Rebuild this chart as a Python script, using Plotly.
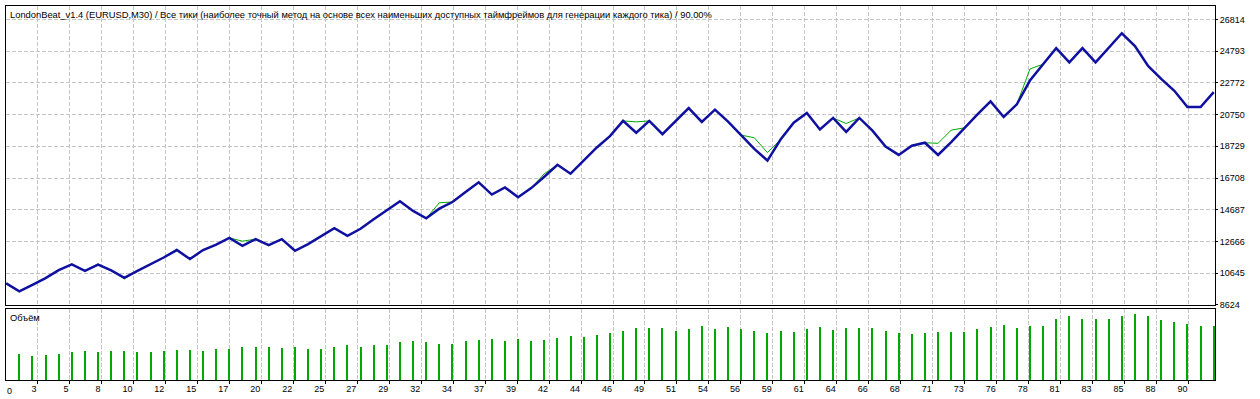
import plotly.graph_objects as go

# ---------------- data ----------------
trade_no = list(range(93))
balance = [10000, 9483, 9905, 10328, 10834, 11201, 10790, 11188, 10822, 10348,
           10790, 11201, 11643, 12116, 11548, 12116, 12464, 12893, 12388, 12811,
           12432, 12811, 12072, 12496, 13001, 13506, 13020, 13474, 14074, 14675,
           15231, 14611, 14137, 14755, 15180, 15811, 16430, 15653, 16111, 15482,
           16064, 16791, 17549, 16981, 17832, 18654, 19380, 20347, 19589, 20347,
           19505, 20328, 21167, 20284, 21066, 20303, 19443, 18559, 17820, 19159,
           20233, 20852, 19796, 20536, 19651, 20536, 19727, 18717, 18180, 18767,
           18956, 18180, 18988, 19904, 20757, 21591, 20598, 21401, 22917, 23960,
           24983, 24080, 24983, 24080, 25010, 25930, 25111, 23846, 23025, 22266,
           21229, 21229, 22178]
equity = [10000, 9483, 9905, 10328, 10834, 11201, 10790, 11233, 10822, 10284,
          10790, 11201, 11643, 12179, 11548, 12116, 12464, 12893, 12684, 12811,
          12432, 12811, 12072, 12496, 13001, 13506, 13020, 13474, 14074, 14675,
          15231, 14611, 14137, 15129, 15180, 15811, 16430, 15653, 16111, 15482,
          16064, 16981, 17549, 16981, 17832, 18654, 19380, 20347, 20284, 20347,
          19505, 20328, 21167, 20284, 21066, 20303, 19443, 19272, 18325, 19159,
          20233, 20852, 19796, 20536, 20181, 20536, 19727, 18717, 18180, 18767,
          18956, 18918, 19758, 19904, 20757, 21591, 20598, 21401, 23656, 23960,
          24983, 24080, 24983, 24080, 25010, 25930, 25111, 23846, 23025, 22266,
          21229, 21229, 22178]
volume_trade_no = list(range(1, 93))
volume = [0.76, 0.70, 0.73, 0.76, 0.82, 0.85, 0.82, 0.85, 0.85, 0.82,
          0.82, 0.85, 0.88, 0.88, 0.85, 0.91, 0.91, 0.97, 0.97, 0.97,
          0.94, 0.97, 0.91, 0.91, 0.97, 1.03, 0.97, 1.03, 1.03, 1.12,
          1.15, 1.12, 1.06, 1.06, 1.15, 1.21, 1.24, 1.18, 1.24, 1.18,
          1.21, 1.27, 1.33, 1.30, 1.36, 1.42, 1.48, 1.57, 1.57, 1.57,
          1.48, 1.54, 1.63, 1.54, 1.60, 1.54, 1.48, 1.42, 1.48, 1.45,
          1.54, 1.60, 1.51, 1.57, 1.57, 1.57, 1.48, 1.42, 1.39, 1.42,
          1.45, 1.45, 1.45, 1.54, 1.60, 1.66, 1.57, 1.63, 1.63, 1.84,
          1.93, 1.84, 1.84, 1.84, 1.93, 1.99, 1.93, 1.81, 1.75, 1.69,
          1.63, 1.63]
x_tick_labels = ["0", "3", "5", "8", "10", "12", "15", "17", "20", "22", "25", "27",
                 "29", "32", "34", "37", "39", "42", "44", "46", "49", "51", "54",
                 "56", "59", "61", "64", "66", "68", "71", "73", "76", "78", "81",
                 "83", "85", "88", "90"]
y_tick_values = [8624, 10645, 12666, 14687, 16708, 18729, 20750, 22772, 24793, 26814]
title_text = ("LondonBeat_v1.4 (EURUSD,M30) / Все тики (наиболее точный метод на основе "
              "всех наименьших доступных таймфреймов для генерации каждого тика) / 90.00%")
volume_title = "Объём"

# ---------------- layout constants ----------------
W, H = 1260, 399
ML, MR, MT, MB = 5, 45, 5, 18
PLOT_H = H - MT - MB
X_MIN, X_MAX = -0.015, 92.099
Y_MIN, Y_MAX = 8592, 27667
VOL_MAX = 2.13
GRID_FIRST, GRID_STEP = 2.383, 2.4361
grid_x = [GRID_FIRST + GRID_STEP * i for i in range(len(x_tick_labels) - 1)]
BAR_W = 0.1523

FONT = "Liberation Sans"
GRID = "#c4c4c4"
BLUE = "#1010a0"
GREEN = "#00a800"
BAR_COLOR = "rgba(0,168,0,0.999)"
DASH = "4px,2px"

fig = go.Figure()
fig.add_trace(go.Scatter(x=trade_no, y=equity, mode="lines",
                         line=dict(color=GREEN, width=1), xaxis="x", yaxis="y",
                         hoverinfo="skip", showlegend=False))
fig.add_trace(go.Scatter(x=trade_no, y=balance, mode="lines",
                         line=dict(color=BLUE, width=2.5), xaxis="x", yaxis="y",
                         hoverinfo="skip", showlegend=False))
fig.add_trace(go.Bar(x=volume_trade_no, y=volume, width=BAR_W,
                     marker=dict(color=BAR_COLOR, line=dict(width=0)),
                     xaxis="x2", yaxis="y2", hoverinfo="skip", showlegend=False))

main_bottom = (H - MB - 306) / PLOT_H
vol_top = (H - MB - 310) / PLOT_H

axis_common = dict(showline=True, linecolor="black", linewidth=1, mirror=True,
                   zeroline=False)

fig.update_layout(
    width=W, height=H,
    margin=dict(l=ML, r=MR, t=MT, b=MB),
    paper_bgcolor="white", plot_bgcolor="white",
    font=dict(family=FONT, size=9, color="black"),
    bargap=0,
    xaxis=dict(anchor="y", range=[X_MIN, X_MAX], tickmode="array",
               tickvals=grid_x, showticklabels=False, ticks="",
               showgrid=True, gridcolor=GRID, gridwidth=1, griddash=DASH,
               **axis_common),
    xaxis2=dict(anchor="y2", matches="x", range=[X_MIN, X_MAX], tickmode="array",
                tickvals=grid_x, ticktext=x_tick_labels[1:],
                ticklabelposition="outside left",
                ticks="outside", ticklen=3, tickcolor="black",
                tickfont=dict(family=FONT, size=9, color="black"),
                showgrid=True, gridcolor=GRID, gridwidth=1, griddash=DASH,
                **axis_common),
    yaxis=dict(domain=[main_bottom, 1], range=[Y_MIN, Y_MAX],
               side="right", tickmode="array", tickvals=y_tick_values,
               ticktext=[str(v) for v in y_tick_values],
               ticks="outside", ticklen=2, tickcolor="black",
               tickfont=dict(family=FONT, size=9, color="black"),
               showgrid=True, gridcolor=GRID, gridwidth=1, griddash=DASH,
               **axis_common),
    yaxis2=dict(domain=[0, vol_top], range=[0, VOL_MAX], showticklabels=False,
                ticks="", showgrid=False, **axis_common),
    annotations=[
        dict(text=title_text, xref="paper", yref="paper", x=0, y=1,
             xanchor="left", yanchor="top", xshift=2, yshift=-2, showarrow=False,
             font=dict(family=FONT, size=9.35, color="black")),
        dict(text=volume_title, xref="paper", yref="y2 domain", x=0, y=1,
             xanchor="left", yanchor="top", xshift=2, yshift=-2, showarrow=False,
             font=dict(family=FONT, size=9.35, color="black")),
        dict(text=x_tick_labels[0], xref="x2", yref="paper", x=X_MIN, y=0,
             xanchor="left", yanchor="top", xshift=-1, yshift=-4, showarrow=False,
             font=dict(family=FONT, size=9, color="black")),
    ],
)

fig.write_html("out.html")
